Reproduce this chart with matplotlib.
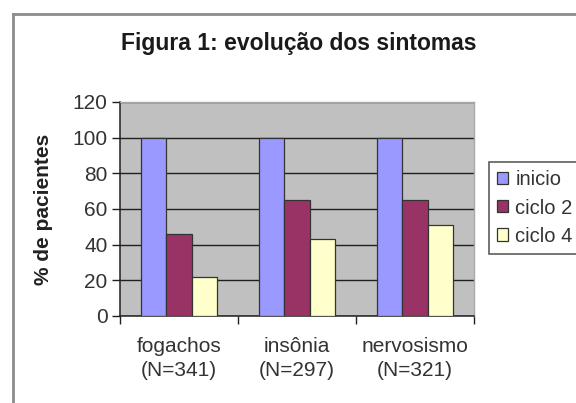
import matplotlib.pyplot as plt
import numpy as np
from matplotlib.lines import Line2D

plt.rcParams['font.family'] = ['Liberation Sans', 'DejaVu Sans']

categorias = ['fogachos\n(N=341)', 'insônia\n(N=297)', 'nervosismo\n(N=321)']
series = ['inicio', 'ciclo 2', 'ciclo 4']
inicio = [100, 100, 100]
ciclo2 = [46, 65, 65]
ciclo4 = [22, 43, 51]
cores = ['#9999ff', '#993366', '#ffffcc']

fig = plt.figure(figsize=(5.76, 4.03), dpi=100)
ax = fig.add_axes([0.2083, 0.2159, 0.6146, 0.5310])

x = np.arange(len(categorias))
w = 0.215
for i, (vals, nome) in enumerate(zip([inicio, ciclo2, ciclo4], series)):
    ax.bar(x + (i - 1) * w, vals, w, color=cores[i], edgecolor='#333333',
           linewidth=0.9, label=nome, zorder=3)

ax.set_facecolor('#c0c0c0')
ax.set_xlim(-0.5, 2.5)
ax.set_ylim(0, 120)
ax.set_yticks(range(0, 121, 20))
ax.yaxis.grid(True, color='#202020', linewidth=1.0, zorder=1)
ax.set_axisbelow(True)

ax.set_xticks(x)
ax.set_xticklabels(categorias, fontsize=15, color='#333333', linespacing=1.35)
ax.tick_params(axis='x', length=0, pad=15)
ax.set_xticks([0.5, 1.5, 2.5, -0.5], minor=True)
ax.tick_params(axis='x', which='minor', length=6, width=1, color='#202020')
ax.tick_params(axis='y', length=6, width=1, color='#202020', labelsize=15,
               labelcolor='#333333', pad=3)

for s in ['left', 'bottom']:
    ax.spines[s].set_color('#202020')
    ax.spines[s].set_linewidth(1.1)
for s in ['top', 'right']:
    ax.spines[s].set_color('#a8a8a8')
    ax.spines[s].set_linewidth(1)

ax.set_ylabel('% de pacientes', fontsize=15, fontweight='bold', color='#222222')
ax.yaxis.set_label_coords(-0.19, 0.5)

fig.text(0.518, 0.893, 'Figura 1: evolução dos sintomas', ha='center', va='center',
         fontsize=16.5, fontweight='bold', color='#1a1a1a')

leg = fig.legend(loc='upper left', bbox_to_anchor=(0.849, 0.597),
                 fontsize=14.5, frameon=True, fancybox=False, edgecolor='#333333',
                 handlelength=0.55, handleheight=0.55, handletextpad=0.35,
                 labelspacing=0.45, borderpad=0.4, borderaxespad=0)
leg.get_frame().set_linewidth(1.2)
for t in leg.get_texts():
    t.set_color('#333333')

# chart area border
fig.add_artist(Line2D([13 / 576, 13 / 576], [0, 1 - 14 / 403], color='#8c8c8c',
                      linewidth=2, transform=fig.transFigure))
fig.add_artist(Line2D([13 / 576, 1], [1 - 14 / 403, 1 - 14 / 403], color='#8c8c8c',
                      linewidth=2, transform=fig.transFigure))

fig.savefig('out.png', dpi=100)
